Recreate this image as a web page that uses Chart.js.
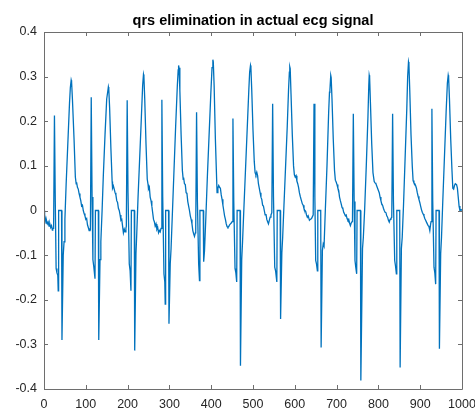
<!DOCTYPE html>
<html>
<head>
<meta charset="utf-8">
<title>qrs elimination</title>
<script src="https://cdn.jsdelivr.net/npm/chart.js@4.4.1/dist/chart.umd.min.js"></script>
<style>
  html, body { margin: 0; padding: 0; background: #fff; }
  #wrap { width: 475px; height: 411px; }
</style>
</head>
<body>
<div id="wrap"><canvas id="ecg"></canvas></div>
<script>
// [sample, amplitude] pairs, one list per beat
const leadIn = [[0,0],[1,-0.01],[2,-0.022],[3,-0.018],[5,-0.028],[6,-0.022],[8,-0.03],[10,-0.026],[12,-0.035],[14,-0.03],[16,-0.038],[18,-0.034],[20,-0.044],[21,-0.04],[23,-0.04]];
const beat1 = [[25,0.213],[27,0.02],[29,-0.13],[31,-0.14],[33,-0.145],[34,-0.18],[35,0],[42,0],[43,-0.29],[46,-0.1],[48,-0.07],[50,-0.02],[53,0.06],[57,0.15],[61,0.24],[63,0.275],[65,0.292],[66,0.288],[68,0.25],[72,0.157],[75,0.075],[77,0.06],[78,0.063],[80,0.052],[82,0.048],[84,0.038],[86,0.03],[88,0.022],[90,0.01],[92,0.012],[94,0],[96,-0.007],[98,-0.012],[100,-0.02],[102,-0.018],[104,-0.032],[106,-0.038],[108,-0.045],[110,-0.04],[111,-0.045]];
const beat2 = [[113,0.254],[115,0.03],[117,-0.11],[119,-0.125],[122,-0.153],[123,0],[130,0],[131,-0.29],[134,-0.11],[136,-0.07],[139,0],[142,0.08],[146,0.17],[150,0.25],[153,0.27],[154,0.277],[155,0.272],[157,0.23],[160,0.14],[163,0.065],[164,0.05],[166,0.055],[168,0.048],[170,0.04],[172,0.035],[174,0.022],[176,0.018],[178,0.005],[180,0],[182,-0.01],[184,-0.022],[186,-0.02],[188,-0.035],[190,-0.05],[192,-0.042],[194,-0.048],[196,-0.04],[197,-0.035]];
const beat3 = [[199,0.247],[201,0.04],[204,-0.12],[206,-0.135],[208,-0.18],[209,0],[216,0],[217,-0.314],[220,-0.097],[222,-0.05],[225,0.03],[229,0.12],[233,0.21],[236,0.28],[238,0.305],[239,0.3],[241,0.25],[244,0.15],[247,0.07],[249,0.058],[250,0.048],[252,0.052],[254,0.03],[256,0.022],[258,0.01],[260,-0.005],[262,-0.02],[264,-0.025],[266,-0.035],[268,-0.03],[270,-0.042],[272,-0.038],[274,-0.05],[276,-0.045],[278,-0.048],[280,-0.04]];
const beat4 = [[282,0.248],[284,0.03],[287,-0.142],[289,-0.16],[290,-0.21],[291,0],[298,0],[299,-0.254],[302,-0.12],[304,-0.085],[307,-0.01],[311,0.09],[315,0.19],[319,0.28],[321,0.315],[322,0.325],[323,0.32],[325,0.27],[328,0.17],[331,0.09],[333,0.07],[334,0.074],[336,0.06],[338,0.058],[340,0.04],[342,0.038],[344,0.02],[346,0.01],[348,0],[350,-0.012],[352,-0.02],[354,-0.03],[356,-0.045],[358,-0.052],[360,-0.058],[362,-0.05],[363,-0.04]];
const beat5 = [[365,0.22],[367,0.02],[370,-0.12],[372,-0.157],[373,0],[381,0],[382,-0.115],[384,-0.09],[387,-0.02],[391,0.08],[395,0.17],[399,0.26],[402,0.32],[404,0.338],[405,0.333],[407,0.28],[410,0.16],[413,0.07],[414,0.04],[416,0.05],[418,0.056],[420,0.052],[422,0.05],[424,0.035],[426,0.025],[428,0.012],[430,0],[432,-0.012],[434,-0.02],[436,-0.03],[438,-0.036],[440,-0.038],[442,-0.036],[444,-0.032],[446,-0.03],[448,-0.028],[450,-0.025]];
const beat6 = [[452,0.206],[454,0.02],[457,-0.13],[459,-0.14],[461,-0.16],[462,0],[469,0],[470,-0.348],[473,-0.11],[475,-0.07],[478,0],[482,0.09],[486,0.18],[490,0.27],[492,0.31],[494,0.325],[495,0.32],[497,0.27],[500,0.18],[503,0.11],[505,0.085],[507,0.08],[509,0.086],[511,0.078],[513,0.06],[515,0.05],[517,0.04],[519,0.03],[521,0.025],[523,0.012],[525,0.01],[527,0],[529,-0.01],[531,-0.008],[533,-0.02],[535,-0.025],[537,-0.03],[539,-0.022],[541,-0.015],[543,-0.01],[545,-0.005]];
const beat7 = [[547,0.239],[549,0.03],[552,-0.127],[554,-0.135],[557,-0.16],[558,0],[565,0],[566,-0.243],[569,-0.095],[571,-0.06],[574,0.01],[578,0.1],[582,0.19],[585,0.27],[587,0.31],[588,0.322],[589,0.318],[591,0.26],[594,0.17],[597,0.1],[599,0.08],[601,0.075],[603,0.078],[605,0.066],[607,0.06],[609,0.052],[611,0.04],[613,0.032],[615,0.025],[618,0.015],[620,0.012],[622,0.004],[624,0],[626,-0.002],[628,-0.01],[630,-0.015],[632,-0.012],[635,-0.022],[637,-0.02],[640,-0.018],[643,-0.012],[644,-0.01]];
const beat8 = [[646,0.239],[648,0.03],[650,-0.112],[652,-0.12],[654,-0.135],[655,0],[662,0],[663,-0.307],[666,-0.09],[668,-0.075],[670,-0.08],[673,0],[677,0.1],[681,0.22],[683,0.265],[684,0.27],[686,0.303],[687,0.298],[689,0.25],[692,0.16],[695,0.09],[697,0.068],[699,0.064],[701,0.058],[703,0.05],[705,0.045],[707,0.03],[709,0.022],[711,0.015],[713,0.007],[715,0.004],[717,-0.004],[719,-0.008],[721,-0.012],[723,-0.01],[725,-0.018],[727,-0.022],[729,-0.02],[731,-0.028],[733,-0.034],[735,-0.028],[737,-0.025],[738,-0.02]];
const beat9 = [[740,0.217],[742,0.02],[744,-0.112],[746,-0.128],[748,-0.142],[749,0],[757,0],[758,-0.381],[762,-0.085],[764,-0.06],[767,0],[771,0.1],[775,0.21],[777,0.28],[778,0.303],[779,0.298],[781,0.24],[784,0.15],[787,0.085],[790,0.065],[792,0.062],[794,0.06],[796,0.055],[798,0.05],[800,0.045],[802,0.04],[804,0.03],[806,0.022],[808,0.015],[810,0.012],[812,0.005],[814,0],[816,-0.004],[818,-0.005],[820,-0.012],[822,-0.015],[824,-0.022],[826,-0.026],[828,-0.02],[830,-0.018],[832,-0.015]];
const beat10 = [[834,0.217],[836,0.02],[839,-0.112],[841,-0.125],[843,-0.142],[844,0],[851,0],[852,-0.352],[855,-0.085],[857,-0.06],[860,0.01],[864,0.12],[868,0.23],[870,0.3],[872,0.333],[873,0.328],[875,0.27],[878,0.17],[881,0.1],[883,0.067],[885,0.062],[887,0.06],[889,0.056],[891,0.05],[893,0.04],[895,0.032],[897,0.025],[899,0.018],[901,0.01],[903,0.002],[905,-0.004],[907,-0.008],[909,-0.012],[911,-0.018],[913,-0.022],[915,-0.026],[917,-0.03],[919,-0.034],[921,-0.036],[923,-0.045],[925,-0.03],[926,-0.025]];
const beat11 = [[928,0.228],[930,0.02],[933,-0.127],[935,-0.14],[937,-0.165],[938,0],[945,0],[946,-0.31],[949,-0.097],[951,-0.06],[954,0.02],[958,0.12],[962,0.22],[965,0.285],[967,0.303],[968,0.298],[970,0.25],[973,0.16],[976,0.09],[978,0.05],[980,0.048],[982,0.056],[984,0.06],[987,0.058],[989,0.05],[991,0.03],[993,0.01],[995,0],[998,0.002],[1000,0]];

const xTicks = [0, 100, 200, 300, 400, 500, 600, 700, 800, 900, 1000];
const yTicks = [-0.4, -0.3, -0.2, -0.1, 0, 0.1, 0.2, 0.3, 0.4];

const titleText = 'qrs elimination in actual ecg signal';

const beats = [leadIn, beat1, beat2, beat3, beat4, beat5, beat6, beat7, beat8, beat9, beat10, beat11];
const points = beats.flat().map(([x, y]) => ({ x, y }));

const axisColor = '#6e6e6e';
const labelColor = '#262626';

Chart.defaults.font.family = "'Liberation Sans', Arial, Helvetica, sans-serif";

// matlab style: box all round, ticks pointing inwards on every side
const matlabBox = {
  id: 'matlabBox',
  afterDraw(chart) {
    const { ctx, chartArea: a } = chart;
    const xs = chart.scales.x, ys = chart.scales.y;
    const len = 4;
    ctx.save();
    ctx.strokeStyle = axisColor;
    ctx.lineWidth = 1;
    ctx.beginPath();
    ctx.rect(a.left + 0.5, a.top + 0.5, a.right - a.left, a.bottom - a.top);
    xTicks.forEach(v => {
      const px = Math.round(xs.getPixelForValue(v)) + 0.5;
      ctx.moveTo(px, a.bottom);
      ctx.lineTo(px, a.bottom - len);
      ctx.moveTo(px, a.top);
      ctx.lineTo(px, a.top + len);
    });
    yTicks.forEach(v => {
      const py = Math.round(ys.getPixelForValue(v)) + 0.5;
      ctx.moveTo(a.left, py);
      ctx.lineTo(a.left + len, py);
      ctx.moveTo(a.right, py);
      ctx.lineTo(a.right - len, py);
    });
    ctx.stroke();
    ctx.restore();
  }
};

new Chart(document.getElementById('ecg'), {
  type: 'line',
  data: {
    datasets: [{
      data: points,
      borderColor: '#0072bd',
      borderWidth: 1.3,
      pointRadius: 0,
      tension: 0,
      fill: false
    }]
  },
  options: {
    responsive: true,
    maintainAspectRatio: false,
    animation: false,
    events: [],
    layout: { padding: { top: 0, right: 13, bottom: 0, left: 0 } },
    plugins: {
      legend: { display: false },
      tooltip: { enabled: false },
      title: {
        display: true,
        text: titleText,
        fullSize: false,
        color: '#000',
        font: { size: 14.5, weight: 'bold' },
        padding: { top: 12.3, bottom: 2.3 }
      }
    },
    scales: {
      x: {
        type: 'linear',
        min: 0,
        max: 1000,
        afterBuildTicks: s => { s.ticks = xTicks.map(v => ({ value: v })); },
        afterFit: s => { s.height = 22; s.paddingLeft = 0; s.paddingRight = 0; },
        grid: { display: false, drawTicks: false },
        border: { display: false },
        ticks: {
          autoSkip: false,
          maxRotation: 0,
          padding: 8,
          color: labelColor,
          font: { size: 12.5 },
          callback: v => String(v)
        }
      },
      y: {
        type: 'linear',
        min: -0.4,
        max: 0.4,
        afterBuildTicks: s => { s.ticks = yTicks.map(v => ({ value: v })); },
        afterFit: s => { s.width = 44; s.paddingTop = 0; s.paddingBottom = 0; },
        grid: { display: false, drawTicks: false },
        border: { display: false },
        ticks: {
          padding: 7,
          color: labelColor,
          font: { size: 12.5 },
          callback: v => String(Math.round(v * 10) / 10)
        }
      }
    }
  },
  plugins: [matlabBox]
});
</script>
</body>
</html>
